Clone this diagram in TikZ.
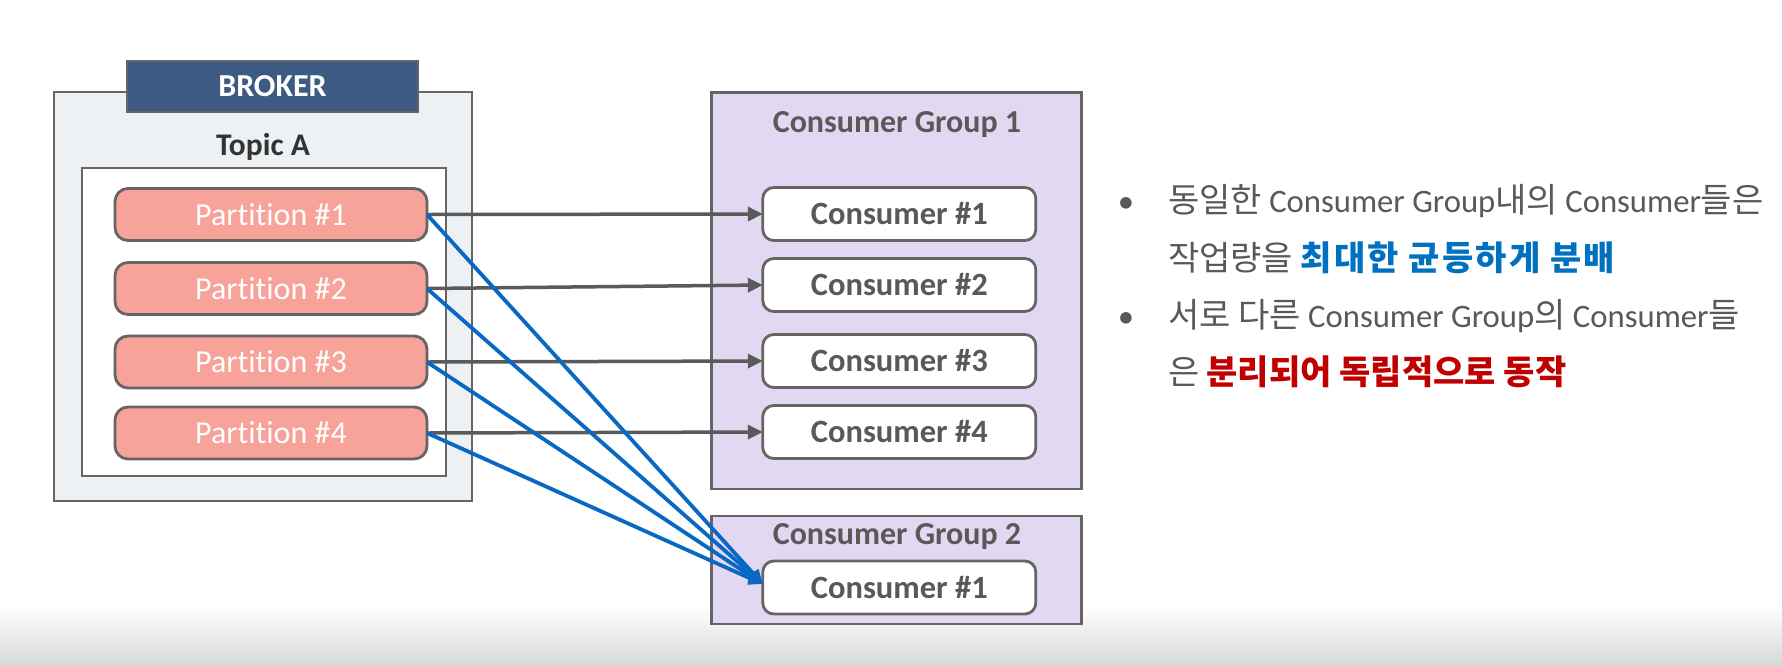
\documentclass[tikz,border=0pt]{standalone}
\usepackage{fontspec}
\setmainfont{Carlito}[Ligatures=NoCommon]
\newfontfamily\kr{Noto Sans CJK KR}[Scale=1.04]
\newfontfamily\krwide{Noto Sans CJK KR}[Scale=1.04,LetterSpace=6.4]
\usetikzlibrary{arrows.meta,calc}
\definecolor{boxline}{HTML}{656565}
\definecolor{brokerfill}{HTML}{EEF1F3}
\definecolor{headfill}{HTML}{3C5A82}
\definecolor{partfill}{HTML}{F8A39A}
\definecolor{grpfill}{HTML}{E3D8F1}
\definecolor{labelgray}{HTML}{595959}
\definecolor{topicgray}{HTML}{333333}
\definecolor{arrowgray}{HTML}{5A5A5A}
\definecolor{linkblue}{HTML}{0868C4}
\definecolor{txtblue}{HTML}{0070C0}
\definecolor{txtred}{HTML}{C00000}
\definecolor{bottomgray}{HTML}{D8D8D8}
\begin{document}
\begin{tikzpicture}[x=1pt,y=-1pt,
  every node/.style={inner sep=0pt,outer sep=0pt},
  brokerbox/.style={draw=boxline,line width=2.8pt,fill=brokerfill,minimum width=418pt,minimum height=409pt},
  headbox/.style={draw=boxline,line width=2pt,fill=headfill,minimum width=291pt,minimum height=51pt,
     text=white,font=\fontsize{32}{36}\selectfont\bfseries},
  topicbox/.style={draw=boxline,line width=2.8pt,fill=white,minimum width=364pt,minimum height=308pt},
  partbox/.style={draw=boxline,line width=2.8pt,fill=partfill,rounded corners=13pt,minimum width=312pt,minimum height=52pt,
     text=white,font=\fontsize{32}{36}\selectfont},
  grpbox/.style={draw=boxline,line width=2.8pt,fill=grpfill,minimum width=370pt},
  consbox/.style={draw=boxline,line width=2.8pt,fill=white,rounded corners=11pt,minimum width=273pt,minimum height=53pt,
     text=labelgray,font=\fontsize{32.5}{36}\selectfont\bfseries},
  grplabel/.style={text=labelgray,font=\fontsize{32}{36}\selectfont\bfseries},
  topiclabel/.style={text=topicgray,font=\fontsize{31.5}{36}\selectfont\bfseries},
  grayarrow/.style={draw=arrowgray,line width=3.5pt,-{Triangle[length=15pt,width=14pt]}},
  bluearrow/.style={draw=linkblue,line width=3.8pt,-{Triangle[length=14pt,width=13pt]}},
  rtxt/.style={anchor=base west,text=labelgray,font=\fontsize{32.7}{36}\selectfont},
  bullet/.style={anchor=base,text=labelgray,font=\fontsize{32.7}{36}\selectfont},
]
\useasboundingbox (0,0) rectangle (1782,665);
\fill[white] (0,0) rectangle (1782,665);
\shade[top color=white,bottom color=bottomgray] (0,605) rectangle (1782,665);

% Broker
\node[brokerbox] (broker) at (263,296.5) {};
\node[headbox] (head) at (272.5,86) {BROKER};
\node[topiclabel] (topiclbl) at (263,147) {Topic A};
\node[topicbox] (topic) at (264,322) {};
\node[partbox] (p1) at (271,214.5) {Partition \#1};
\node[partbox] (p2) at (271,288.5) {Partition \#2};
\node[partbox] (p3) at (271,362) {Partition \#3};
\node[partbox] (p4) at (271,433) {Partition \#4};

% Consumer groups
\node[grpbox,minimum height=396.5pt] (g1) at (896.25,290.75) {};
\node[grplabel] (g1lbl) at (897,125) {Consumer Group 1};
\node[consbox] (c1) at (899.3,214) {Consumer \#1};
\node[consbox] (c2) at (899.3,285) {Consumer \#2};
\node[consbox] (c3) at (899.3,361) {Consumer \#3};
\node[consbox] (c4) at (899.3,432) {Consumer \#4};

\node[grpbox,minimum height=108pt] (g2) at (896.25,570) {};
\node[grplabel] (g2lbl) at (897,537) {Consumer Group 2};
\node[consbox] (c5) at (899.3,587.5) {Consumer \#1};

% Connectors
\draw[grayarrow] (p1.east) -- (c1.west);
\draw[grayarrow] (p2.east) -- (c2.west);
\draw[grayarrow] (p3.east) -- (c3.west);
\draw[grayarrow] (p4.east) -- (c4.west);
\coordinate (tip) at ($(c5.west)+(0,-3.5)$);
\draw[bluearrow] (p1.east) -- (tip);
\draw[bluearrow] (p2.east) -- (tip);
\draw[bluearrow] (p3.east) -- (tip);
\draw[bluearrow] (p4.east) -- (tip);

% Right-hand text
\node[bullet] (b1) at (1126,212) {•};
\node[rtxt] (l1) at (1168,212) {{\kr 동일한} Consumer Group{\kr 내의} Consumer{\kr 들은}};
\node[rtxt] (l2) at (1168,270) {{\kr 작업량을} {\krwide\bfseries\color{txtblue}최대한 균등하게 분배}};
\node[bullet] (b2) at (1126,327) {•};
\node[rtxt] (l3) at (1168,327) {{\kr 서로 다른} Consumer Group{\kr 의} Consumer{\kr 들}};
\node[rtxt] (l4) at (1168,384) {{\kr 은} {\kr\bfseries\color{txtred}분리되어 독립적으로 동작}};
\end{tikzpicture}
\end{document}
